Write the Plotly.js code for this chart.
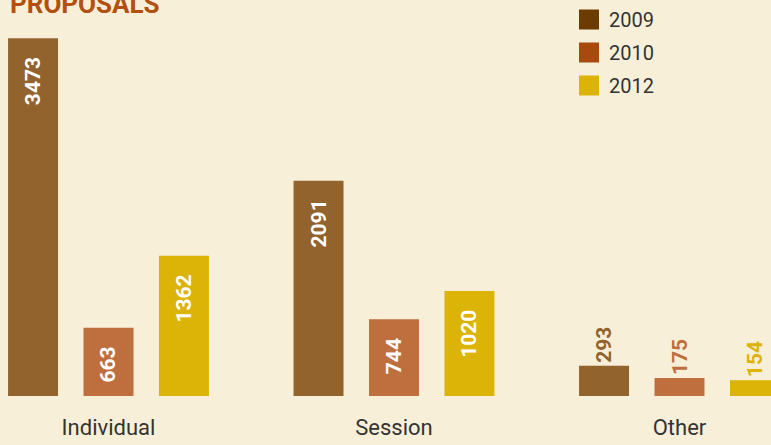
<!DOCTYPE html>
<html>
<head>
<meta charset="utf-8">
<script src="https://cdn.plot.ly/plotly-3.0.1.min.js"></script>
<style>html,body{margin:0;padding:0;background:#f8efd9;}#chart{width:771px;height:445px;}</style>
</head>
<body>
<div id="chart"></div>
<script>
// Data
const categories = ['Individual', 'Session', 'Other'];
const years = ['2009', '2010', '2012'];
const values2009 = [3473, 2091, 293];
const values2010 = [663, 744, 175];
const values2012 = [1362, 1020, 154];
const seriesValues = [values2009, values2010, values2012];

// Styles
const barColors = ['#93632d', '#bf6e3e', '#dcb307'];
const legendColors = ['#6b3b00', '#a84a0e', '#ddb307'];
const FONT = 'Roboto, "Liberation Sans", sans-serif';
const PX_PER_UNIT = 0.103;
const MIN_INSIDE_PX = 60;

const traces = [];
seriesValues.forEach((vals, i) => {
  traces.push({
    type: 'bar',
    name: years[i],
    x: categories,
    y: vals,
    marker: {color: barColors[i]},
    text: vals.map(v => String(v) + '\u00a0\u00a0\u00a0'),
    textposition: vals.map(v => (v * PX_PER_UNIT >= MIN_INSIDE_PX ? 'inside' : 'outside')),
    insidetextanchor: 'end',
    textangle: -90,
    cliponaxis: false,
    constraintext: 'none',
    insidetextfont: {family: FONT, size: 21, color: '#ffffff', weight: 'bold'},
    outsidetextfont: {family: FONT, size: 21, color: barColors[i], weight: 'bold'},
    showlegend: false,
    hoverinfo: 'x+name'
  });
});
years.forEach((yr, i) => {
  traces.push({
    type: 'scatter',
    mode: 'markers',
    name: yr,
    legendgroup: 'g' + yr,
    x: [null],
    y: [null],
    marker: {symbol: 'square', size: 16, color: legendColors[i], line: {color: legendColors[i], width: 4}},
    showlegend: true,
    hoverinfo: 'skip'
  });
});

const layout = {
  width: 771,
  height: 445,
  paper_bgcolor: '#f8efd9',
  plot_bgcolor: '#f8efd9',
  margin: {l: 0, r: 0, t: 0, b: 49},
  barmode: 'group',
  bargap: 0.207,
  bargroupgap: 0.338,
  title: {
    text: 'PROPOSALS',
    font: {family: FONT, size: 26, color: '#b3500f', weight: 'bold'},
    x: 10 / 771, xanchor: 'left', xref: 'container',
    y: 1 - 13 / 445, yanchor: 'bottom', yref: 'container'
  },
  xaxis: {
    type: 'category',
    range: [-0.380, 2.3205],
    showgrid: false, zeroline: false, showline: false,
    ticks: '',
    tickfont: {family: FONT, size: 22, color: '#333333'},
    ticklabelstandoff: 16,
    fixedrange: true
  },
  yaxis: {
    range: [0, 396 / PX_PER_UNIT],
    visible: false,
    showgrid: false, zeroline: false,
    fixedrange: true
  },
  legend: {
    x: 569 / 771, xanchor: 'left',
    y: 1, yanchor: 'top',
    bgcolor: 'rgba(0,0,0,0)',
    font: {family: FONT, size: 20, color: '#333333'},
    traceorder: 'grouped',
    tracegroupgap: 4
  },
  showlegend: true
};

Plotly.newPlot('chart', traces, layout, {displayModeBar: false, staticPlot: true});
</script>
</body>
</html>
